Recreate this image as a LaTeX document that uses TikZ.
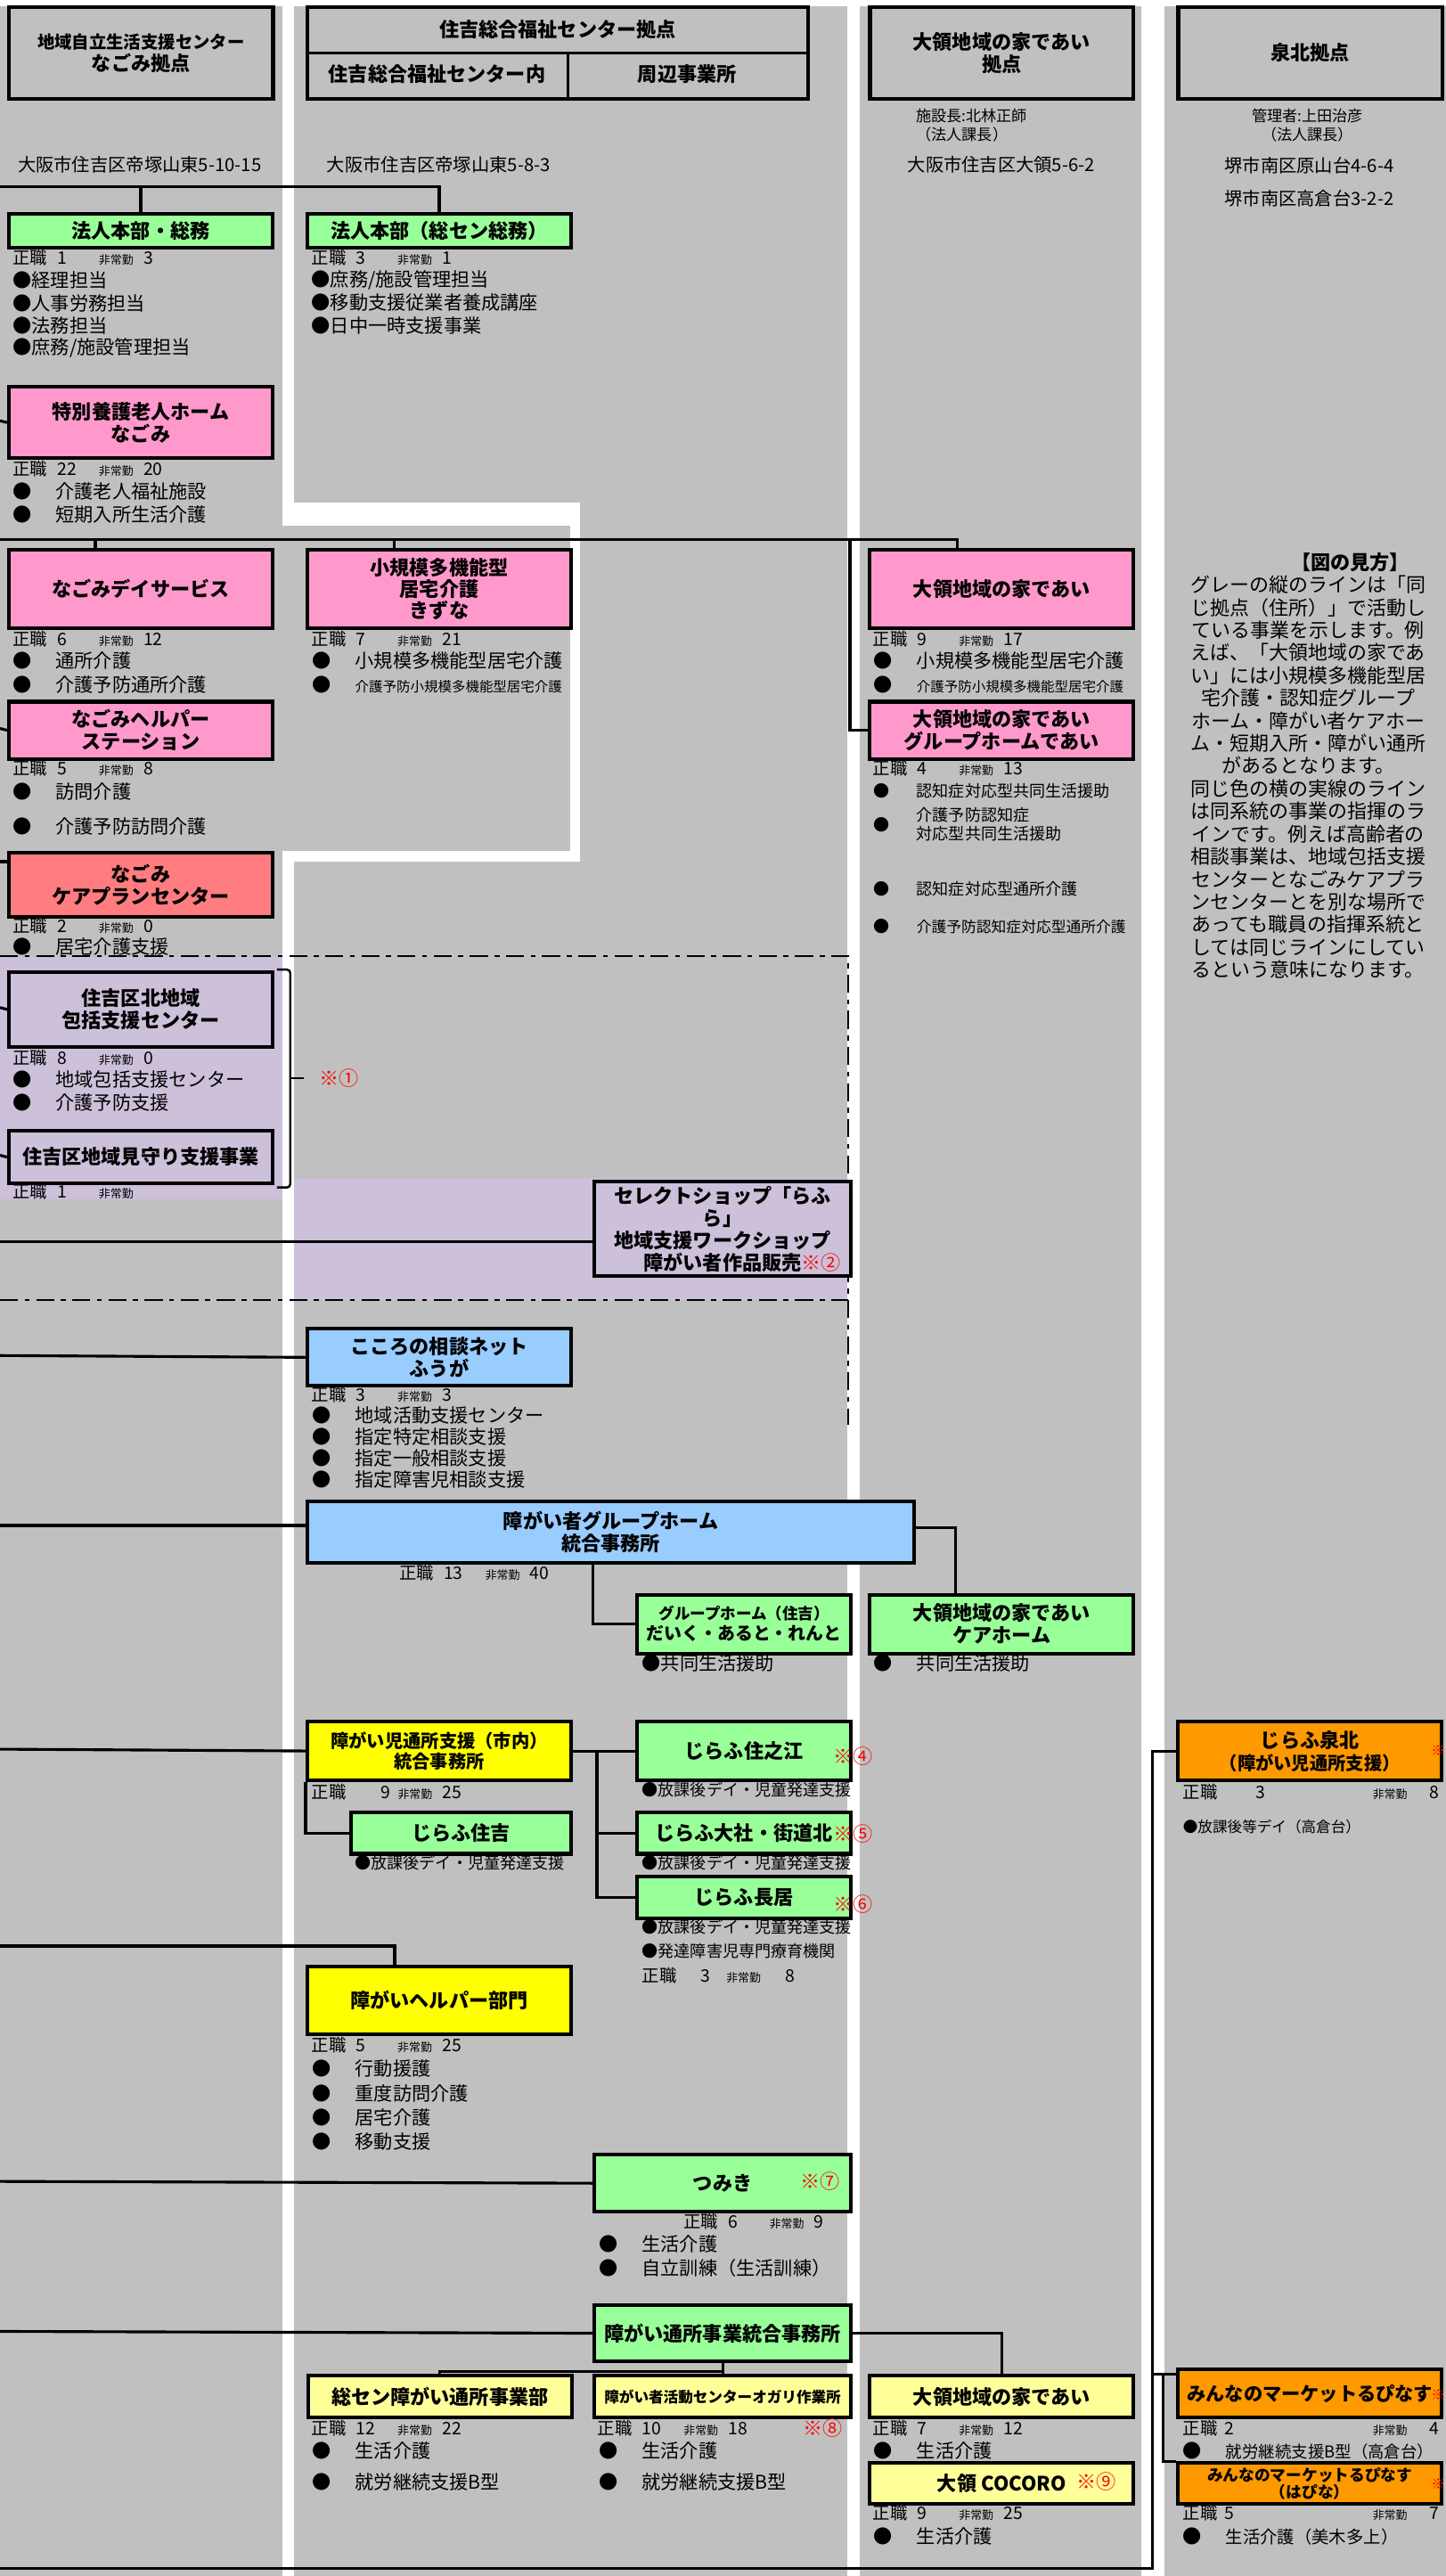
\documentclass[tikz,border=0pt]{standalone}
\usepackage{fontspec}
\setmainfont{Noto Sans CJK JP}

\definecolor{colgray}{RGB}{192,192,192}
\definecolor{lilac}{RGB}{204,192,218}
\definecolor{pinkbox}{RGB}{255,153,204}
\definecolor{greenbox}{RGB}{153,255,153}
\definecolor{bluebox}{RGB}{153,204,255}
\definecolor{yellowbox}{RGB}{255,255,0}
\definecolor{paleyellow}{RGB}{255,255,153}
\definecolor{orangebox}{RGB}{255,153,0}
\definecolor{salmonbox}{RGB}{255,124,128}

\newcommand{\staffcount}[2]{\makebox[27pt][l]{正職}\makebox[25.3pt][l]{#1}\makebox[27.2pt][l]{\fontsize{7}{8}\selectfont 非常勤}#2}
\newcommand{\bulletgap}{\makebox[26pt][l]{●}}

\begin{document}
\begin{tikzpicture}[x=1pt,y=-1pt,
  unit/.style={draw,line width=2.2pt,anchor=north west,inner sep=0pt,align=center,
    font=\bfseries\fontsize{12}{13.5}\selectfont},
  hdbox/.style={unit,line width=2.4pt,minimum height=56pt},
  hdtext/.style={inner sep=0pt,font=\bfseries\fontsize{12}{14}\selectfont},
  colw/.style={minimum width=160.6pt},
  link/.style={line width=1.7pt},
  cnt/.style={anchor=west,inner sep=0pt,font=\fontsize{10.5}{12}\selectfont},
  itm/.style={anchor=west,inner sep=0pt,font=\fontsize{11.5}{13}\selectfont},
  note/.style={anchor=west,inner sep=0pt,text=red,font=\fontsize{12}{13}\selectfont},
  addr/.style={inner sep=0pt,font=\fontsize{11}{12}\selectfont},
  zoneline/.style={line width=0.9pt,dash pattern=on 11pt off 4pt on 3pt off 4pt}]
\useasboundingbox (0,0) rectangle (880,1568);

% grey columns and white gaps
\fill[colgray] (0,0) rectangle (880,1568);
\fill[white] (0,0) rectangle (880,3.8);
\fill[white] (172,0) rectangle (179,320);
\fill[white] (172,306) rectangle (353,320);
\fill[white] (347,306) rectangle (353,524.6);
\fill[white] (172,518) rectangle (353,524.6);
\fill[white] (172,518) rectangle (179,1568);
\fill[white] (516,0) rectangle (523.5,1568);
\fill[white] (695,0) rectangle (709,1568);
\fill[lilac] (0,582.6) rectangle (172,730);
\fill[lilac] (179,717.8) rectangle (516,791.4);
\draw[zoneline] (0,581.8) -- (516.5,581.8) -- (516.5,867);
\draw[zoneline] (0,791.4) -- (516.5,791.4);

% headers
\node[hdbox,minimum width=160.7pt] (hdrA) at (4.3,3) {{\fontsize{10.5}{12}\selectfont 地域自立生活支援センター}\\なごみ拠点};
\node[hdbox,minimum width=304.6pt] (hdrB) at (186,3) {};
\node[hdbox,minimum width=160.2pt] (hdrC) at (528.4,3) {大領地域の家であい\\拠点};
\node[hdbox,minimum width=161pt] (hdrD) at (716,3) {泉北拠点};
\draw[line width=1.6pt] (hdrB.west) -- (hdrB.east);
\draw[line width=1.6pt] ([xshift=160pt]hdrB.west) -- ([xshift=160pt]hdrB.south west);
\node[hdtext] (hdrBtop) at ([yshift=14pt]hdrB.center) {住吉総合福祉センター拠点};
\node[hdtext] (hdrBin) at (266,45) {住吉総合福祉センター内};
\node[hdtext] (hdrBout) at (418.3,45) {周辺事業所};

\node[addr] (addrA) at (85,100.5) {大阪市住吉区帝塚山東5-10-15};
\node[addr] (addrB) at (267,100.5) {大阪市住吉区帝塚山東5-8-3};
\node[addr,anchor=west,align=left,font=\fontsize{9.3}{11.3}\selectfont] (headC) at (557.5,76.3) {施設長:北林正師\\（法人課長）};
\node[addr] (addrC) at (609.5,100.5) {大阪市住吉区大領5-6-2};
\node[addr,align=center,font=\fontsize{9.3}{11.3}\selectfont] (headD) at (796,76.3) {管理者:上田治彦\\（法人課長）};
\node[addr] (addrD1) at (797,100.5) {堺市南区原山台4-6-4};
\node[addr] (addrD2) at (797,121) {堺市南区高倉台3-2-2};

% units
\node[unit,colw,fill=greenbox,minimum height=20.5pt] (hq) at (4.3,129) {法人本部・総務};
\node[unit,colw,fill=greenbox,minimum height=20.5pt] (hqsc) at (186,129) {法人本部（総セン総務）};
\node[unit,colw,fill=pinkbox,minimum height=43.4pt] (tokuyo) at (4.3,234.4) {特別養護老人ホーム\\なごみ};
\node[unit,colw,fill=pinkbox,minimum height=48pt] (dayserv) at (4.3,333.4) {なごみデイサービス};
\node[unit,colw,fill=pinkbox,minimum height=48pt,font=\bfseries\fontsize{12}{13}\selectfont] (kizuna) at (186,333.4) {小規模多機能型\\居宅介護\\きずな};
\node[unit,colw,fill=pinkbox,minimum height=48pt] (daiai) at (528.4,333.4) {大領地域の家であい};
\node[unit,colw,fill=pinkbox,minimum height=34.8pt] (helper) at (4.3,426) {なごみヘルパー\\ステーション};
\node[unit,colw,fill=pinkbox,minimum height=34.8pt] (ghdaiai) at (528.4,426) {大領地域の家であい\\グループホームであい};
\node[unit,colw,fill=salmonbox,minimum height=38.8pt] (careplan) at (4.3,518) {なごみ\\ケアプランセンター};
\node[unit,colw,fill=lilac,minimum height=45.3pt] (hokatsu) at (4.3,590.7) {住吉区北地域\\包括支援センター};
\node[unit,colw,fill=lilac,minimum height=31.6pt] (mimamori) at (4.3,687.4) {住吉区地域見守り支援事業};
\node[unit,fill=lilac,minimum width=156pt,minimum height=57.6pt] (select) at (360.8,718.2) {セレクトショップ「らふ\\ら」\\地域支援ワークショップ\\\hspace*{24pt}障がい者作品販売{\mdseries\color{red}※②}};
\node[unit,colw,fill=bluebox,minimum height=34.6pt] (soudan) at (186,807.8) {こころの相談ネット\\ふうが};
\node[unit,fill=bluebox,minimum width=369.5pt,minimum height=37pt] (ghoffice) at (186,913) {障がい者グループホーム\\統合事務所};
\node[unit,fill=greenbox,minimum width=130.4pt,minimum height=35.8pt,font=\bfseries\fontsize{10.8}{12.5}\selectfont] (ghsumi) at (386.6,969.5) {{\fontsize{9.5}{11}\selectfont グループホーム（住吉）}\\だいく・あると・れんと};
\node[unit,colw,fill=greenbox,minimum height=35.8pt] (carehome) at (528.4,969.5) {大領地域の家であい\\ケアホーム};
\node[unit,colw,fill=yellowbox,minimum height=35.4pt,font=\bfseries\fontsize{11}{13}\selectfont] (jidou) at (186,1047) {障がい児通所支援（市内）\\統合事務所};
\node[unit,fill=greenbox,minimum width=133.9pt,minimum height=25.3pt] (jsumiyoshi) at (212.7,1102) {じらふ住吉};
\node[unit,fill=greenbox,minimum width=130.4pt,minimum height=35.4pt] (jsuminoe) at (386.6,1047) {じらふ住之江};
\node[unit,fill=greenbox,minimum width=130.4pt,minimum height=25.3pt] (jtaisha) at (386.6,1102) {じらふ大社・街道北};
\node[unit,fill=greenbox,minimum width=130.4pt,minimum height=25.2pt] (jnagai) at (386.6,1141.2) {じらふ長居};
\node[unit,colw,fill=yellowbox,minimum height=41.2pt] (jhelper) at (186,1196) {障がいヘルパー部門};
\node[unit,fill=greenbox,minimum width=156pt,minimum height=34.6pt] (tsumiki) at (360.8,1310.5) {つみき};
\node[unit,fill=greenbox,minimum width=156pt,minimum height=34.2pt] (tsusho) at (360.8,1402) {障がい通所事業統合事務所};
\node[unit,colw,fill=paleyellow,minimum height=25.3pt] (sosen) at (186.4,1445) {総セン障がい通所事業部};
\node[unit,fill=paleyellow,minimum width=156pt,minimum height=25.3pt,font=\bfseries\fontsize{9}{11}\selectfont] (ogari) at (360.8,1445) {障がい者活動センターオガリ作業所};
\node[unit,colw,fill=paleyellow,minimum height=25.5pt] (daiai3) at (528.4,1445) {大領地域の家であい};
\node[unit,colw,fill=paleyellow,minimum height=24.8pt] (cocoro) at (528.4,1498.2) {大領 COCORO};
\node[unit,colw,fill=orangebox,minimum height=35.4pt] (senboku) at (716,1047) {じらふ泉北\\{\fontsize{11}{13}\selectfont（障がい児通所支援）}};
\node[unit,colw,fill=orangebox,minimum height=29.1pt,font=\bfseries\fontsize{11.5}{13}\selectfont] (market1) at (716,1441.2) {みんなのマーケットるぴなす};
\node[unit,colw,fill=orangebox,minimum height=24.8pt,font=\bfseries\fontsize{9.6}{10.5}\selectfont] (market2) at (716,1498.2) {みんなのマーケットるぴなす\\（はぴな）};

% lines of command
\coordinate (feedTop) at (0,113.7);
\draw[link] (feedTop) -| (hqsc.north);
\draw[link] (hq.north) -- (hq.north |- feedTop);
\coordinate (feedTokuyo) at (0,256.1);
\draw[link] (feedTokuyo) -- (tokuyo.west);
\coordinate (feedDay) at (0,328.4);
\draw[link] (feedDay) -| ([xshift=54.3pt]daiai.north west);
\draw[link] ([xshift=53.7pt]dayserv.north west) -- ([xshift=53.7pt]dayserv.north west |- feedDay);
\draw[link] ([xshift=54pt]kizuna.north west) -- ([xshift=54pt]kizuna.north west |- feedDay);
\draw[link] ([xshift=517.4pt]feedDay) |- (ghdaiai.west);
\coordinate (feedHelper) at (0,443.4);
\draw[link] (feedHelper) -- (helper.west);
\coordinate (feedPlan) at (0,524.5);
\draw[link] (feedPlan) -- (feedPlan -| careplan.west);
\coordinate (feedHokatsu) at (0,613.3);
\draw[link] (feedHokatsu) -- (hokatsu.west);
\coordinate (feedMimamori) at (0,703.2);
\draw[link] (feedMimamori) -- (mimamori.west);
\coordinate (feedSelect) at (0,755.6);
\draw[link] (feedSelect) -- (feedSelect -| select.west);
\coordinate (feedSoudan) at (0,825.1);
\draw[link] (feedSoudan) -- (soudan.west);
\coordinate (feedGh) at (0,928.5);
\draw[link] (feedGh) -- (feedGh -| ghoffice.west);
\draw[link] ([yshift=2.5pt]ghoffice.east) -| ([xshift=53.3pt]carehome.north west);
\draw[link] ([xshift=175pt]ghoffice.south west) |- (ghsumi.west);
\coordinate (feedJidou) at (0,1064.7);
\draw[link] (feedJidou) -- (jidou.west);
\draw[link] (jidou.south west) |- (jsumiyoshi.west);
\draw[link] (jidou.east) -- (jsuminoe.west);
\draw[link] ([xshift=14.6pt]jidou.east) |- (jtaisha.west);
\draw[link] ([xshift=14.6pt]jidou.east) |- (jnagai.west);
\coordinate (feedHelp2) at (0,1184.5);
\draw[link] (feedHelp2) -| ([xshift=54.3pt]jhelper.north west);
\coordinate (feedTsumiki) at (0,1327.8);
\draw[link] (feedTsumiki) -- (tsumiki.west);
\coordinate (feedTsusho) at (0,1419.1);
\draw[link] (feedTsusho) -- (tsusho.west);
\draw[link] (tsusho.east) -| (daiai3.north);
\draw[link] (tsusho.south) -- (ogari.north);
\draw[link] ([yshift=-5pt]tsusho.south) -| (sosen.north);
\coordinate (feedBottom) at (0,1563.4);
\draw[link] (feedBottom) -| ([xshift=-14.4pt]senboku.west) -- (senboku.west);
\draw[link] ([xshift=-14.4pt,yshift=-3.8pt]market1.north west) -- ([yshift=-3.8pt]market1.north west);
\draw[link] ([xshift=-7.8pt,yshift=-3.8pt]market1.north west) |- (market2.north west);

% bracket for note 1
\draw[line width=1.3pt,rounded corners=2pt] (168.6,590.2) -- (176.7,590.2) -- (176.7,722.8) -- (168.6,722.8);
\draw[line width=1.3pt] (176.7,656.4) -- (185,656.4);

% staff and services
\node[cnt] (hqN) at (7.7,156.6) {\staffcount{1}{3}};
\path (7.7,170.5) node[itm] (hq1) {●経理担当}
  ++(0,13.9) node[itm] (hq2) {●人事労務担当}
  ++(0,13.9) node[itm] (hq3) {●法務担当}
  ++(0,13.4) node[itm] (hq4) {●庶務/施設管理担当};
\node[cnt] (hqscN) at (189.5,156.6) {\staffcount{3}{1}};
\path (189.5,170.5) node[itm] (hqsc1) {●庶務/施設管理担当}
  ++(0,13.9) node[itm] (hqsc2) {●移動支援従業者養成講座}
  ++(0,13.9) node[itm] (hqsc3) {●日中一時支援事業};
\node[cnt] (tokuyoN) at (7.7,285.4) {\staffcount{22}{20}};
\path (7.7,299.3) node[itm] (tokuyo1) {\bulletgap 介護老人福祉施設}
  ++(0,13.7) node[itm] (tokuyo2) {\bulletgap 短期入所生活介護};
\node[cnt] (dayservN) at (7.7,389) {\staffcount{6}{12}};
\path (7.7,402) node[itm] (dayserv1) {\bulletgap 通所介護}
  ++(0,15) node[itm] (dayserv2) {\bulletgap 介護予防通所介護};
\node[cnt] (kizunaN) at (189.5,389) {\staffcount{7}{21}};
\path (190,402) node[itm] (kizuna1) {\bulletgap 小規模多機能型居宅介護}
  ++(0,15) node[itm] (kizuna2) {\bulletgap{\fontsize{8.4}{10}\selectfont 介護予防小規模多機能型居宅介護}};
\node[cnt] (daiaiN) at (531.3,389) {\staffcount{9}{17}};
\path (531.8,402) node[itm] (daiai1) {\bulletgap 小規模多機能型居宅介護}
  ++(0,15) node[itm] (daiai2) {\bulletgap{\fontsize{8.4}{10}\selectfont 介護予防小規模多機能型居宅介護}};
\node[cnt] (helperN) at (7.7,467.7) {\staffcount{5}{8}};
\path (7.7,481.6) node[itm] (helper1) {\bulletgap 訪問介護}
  ++(0,21.4) node[itm] (helper2) {\bulletgap 介護予防訪問介護};
\node[cnt] (ghdaiaiN) at (531.3,467.7) {\staffcount{4}{13}};
\path[every node/.style={itm,font=\fontsize{9.8}{11.3}\selectfont}] (531.8,481.6) node (ghdaiai1) {\bulletgap 認知症対応型共同生活援助}
  ++(0,21.4) node (ghdaiai2) {\bulletgap\begin{tabular}{@{}l@{}}介護予防認知症\\対応型共同生活援助\end{tabular}}
  ++(0,38) node (ghdaiai3) {\bulletgap 認知症対応型通所介護}
  ++(0,22.7) node (ghdaiai4) {\bulletgap{\fontsize{9.1}{11}\selectfont 介護予防認知症対応型通所介護}};
\node[cnt] (careplanN) at (7.7,563.7) {\staffcount{2}{0}};
\node[itm] (careplan1) at (7.7,576.3) {\bulletgap 居宅介護支援};
\node[cnt] (hokatsuN) at (7.7,643.7) {\staffcount{8}{0}};
\path (7.7,657) node[itm] (hokatsu1) {\bulletgap 地域包括支援センター}
  ++(0,14) node[itm] (hokatsu2) {\bulletgap 介護予防支援};
\node[cnt] (mimamoriN) at (7.7,725.4) {\staffcount{1}{}};
\node[cnt] (soudanN) at (189.5,849) {\staffcount{3}{3}};
\path (190,861.6) node[itm] (soudan1) {\bulletgap 地域活動支援センター}
  ++(0,13.1) node[itm] (soudan2) {\bulletgap 指定特定相談支援}
  ++(0,12.7) node[itm] (soudan3) {\bulletgap 指定一般相談支援}
  ++(0,13.1) node[itm] (soudan4) {\bulletgap 指定障害児相談支援};
\node[cnt] (ghofficeN) at (243,957.6) {\staffcount{13}{40}};
\node[itm] (ghsumi1) at (390.7,1012.5) {●共同生活援助};
\node[itm] (carehome1) at (531.8,1012.5) {\bulletgap 共同生活援助};
\node[cnt] (jidouN) at (189.5,1090.7) {\makebox[42pt][l]{正職}\makebox[10.5pt][l]{9}\makebox[27pt][l]{\fontsize{7}{8}\selectfont 非常勤}25};
\node[itm,font=\fontsize{9.8}{11}\selectfont] (jsumiyoshi1) at (216,1133.6) {●放課後デイ・児童発達支援};
\node[itm,font=\fontsize{9.8}{11}\selectfont] (jsuminoe1) at (390.7,1089.4) {●放課後デイ・児童発達支援};
\node[itm,font=\fontsize{9.8}{11}\selectfont] (jtaisha1) at (390.7,1133.6) {●放課後デイ・児童発達支援};
\path[every node/.style={itm,font=\fontsize{9.8}{11}\selectfont}] (390.7,1172.7) node (jnagai1) {●放課後デイ・児童発達支援}
  ++(0,14.9) node (jnagai2) {●発達障害児専門療育機関};
\node[cnt] (jnagaiN) at (390.7,1202.3) {\makebox[35.8pt][l]{正職}\makebox[15.5pt][l]{3}\makebox[36pt][l]{\fontsize{7}{8}\selectfont 非常勤}8};
\node[cnt] (jhelperN) at (189.5,1245) {\staffcount{5}{25}};
\path (190,1259) node[itm] (jhelper1) {\bulletgap 行動援護}
  ++(0,15.3) node[itm] (jhelper2) {\bulletgap 重度訪問介護}
  ++(0,14.4) node[itm] (jhelper3) {\bulletgap 居宅介護}
  ++(0,14.7) node[itm] (jhelper4) {\bulletgap 移動支援};
\node[cnt] (tsumikiN) at (416,1352) {\staffcount{6}{9}};
\path (364.6,1366.1) node[itm] (tsumiki1) {\bulletgap 生活介護}
  ++(0,14.5) node[itm] (tsumiki2) {\bulletgap 自立訓練（生活訓練）};
\node[cnt] (sosenN) at (189.5,1478) {\staffcount{12}{22}};
\path (190,1491.8) node[itm] (sosen1) {\bulletgap 生活介護}
  ++(0,19) node[itm] (sosen2) {\bulletgap 就労継続支援B型};
\node[cnt] (ogariN) at (363.7,1478) {\staffcount{10}{18}};
\path (364.6,1491.8) node[itm] (ogari1) {\bulletgap 生活介護}
  ++(0,19) node[itm] (ogari2) {\bulletgap 就労継続支援B型};
\node[cnt] (daiai3N) at (531.3,1478) {\staffcount{7}{12}};
\node[itm] (daiai31) at (531.8,1491.8) {\bulletgap 生活介護};
\node[cnt] (cocoroN) at (531.3,1529.8) {\staffcount{9}{25}};
\node[itm] (cocoro1) at (531.8,1543.7) {\bulletgap 生活介護};
\node[cnt] (senbokuN) at (720,1090.6) {\makebox[44pt][l]{正職}\makebox[71.5pt][l]{3}\makebox[34.5pt][l]{\fontsize{7}{8}\selectfont 非常勤}8};
\node[itm,font=\fontsize{9}{10}\selectfont] (senboku1) at (720,1112.2) {●放課後等デイ（高倉台）};
\node[cnt] (market1N) at (720,1478) {\makebox[25.3pt][l]{正職}\makebox[90.2pt][l]{2}\makebox[34.5pt][l]{\fontsize{7}{8}\selectfont 非常勤}4};
\node[itm] (market11) at (720,1491.8) {\bulletgap{\fontsize{10}{11}\selectfont 就労継続支援B型（高倉台）}};
\node[cnt] (market2N) at (720,1529.8) {\makebox[25.3pt][l]{正職}\makebox[90.2pt][l]{5}\makebox[34.5pt][l]{\fontsize{7}{8}\selectfont 非常勤}7};
\node[itm] (market21) at (720,1543.7) {\bulletgap{\fontsize{10.5}{11}\selectfont 生活介護（美木多上）}};

% red notes
\node[note] (n1) at (194,656.4) {※①};
\node[note] (n4) at (507,1069) {※④};
\node[note] (n5) at (507,1116) {※⑤};
\node[note] (n6) at (507,1158.9) {※⑥};
\node[note] (n7) at (487,1327.8) {※⑦};
\node[note] (n8) at (488.6,1478) {※⑧};
\node[note] (n9) at (655.4,1510.6) {※⑨};
\node[note,font=\fontsize{8.5}{9}\selectfont] (nSen) at (871,1065.4) {※};
\node[note,font=\fontsize{8.5}{9}\selectfont] (nMk1) at (871,1457.7) {※};
\node[note,font=\fontsize{8.5}{9}\selectfont] (nMk2) at (871,1512) {※};

% legend
\node[hdtext] (legendHead) at (822,342.2) {【図の見方】};
\node[inner sep=0pt,align=center,font=\fontsize{11.9}{13.78}\selectfont] (legendText) at (796.4,473.1)
  {グレーの縦のラインは「同\\じ拠点（住所）」で活動し\\ている事業を示します。例\\えば、「大領地域の家であ\\い」には小規模多機能型居\\宅介護・認知症グループ\\ホーム・障がい者ケアホー\\ム・短期入所・障がい通所\\があるとなります。\\同じ色の横の実線のライン\\は同系統の事業の指揮のラ\\インです。例えば高齢者の\\相談事業は、地域包括支援\\センターとなごみケアプラ\\ンセンターとを別な場所で\\あっても職員の指揮系統と\\しては同じラインにしてい\\るという意味になります。};
\end{tikzpicture}
\end{document}
